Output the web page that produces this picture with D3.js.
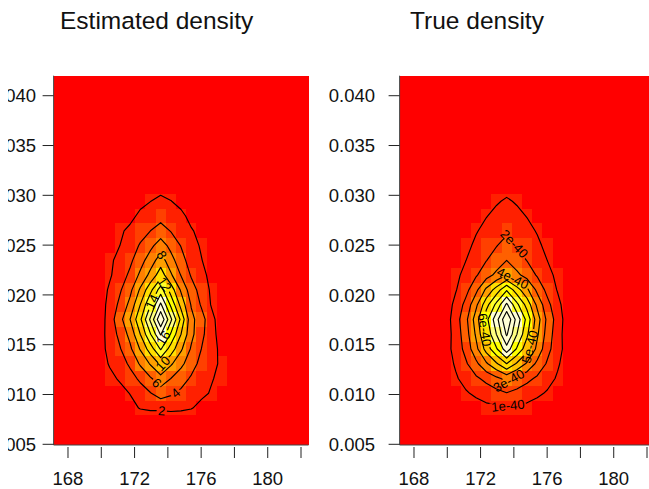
<!DOCTYPE html>
<html><head><meta charset="utf-8">
<script src="https://cdn.jsdelivr.net/npm/d3@7"></script>
<style>body{margin:0;background:#fff} svg{display:block}</style>
</head><body>
<svg id="chart" width="649" height="489"></svg>
<script>
// ---------- grid (25 x 25 image, extents of the cells) ----------
const xExtent = [167.135, 182.45];
const yExtent = [0.00493, 0.04201];
const nx = 25, ny = 25;
const windowCol0 = 3;            // stored rows start at grid column 3, grid row 0

const xTicks = [168, 170, 172, 174, 176, 178, 180, 182];
const xTickLabels = [168, 172, 176, 180];
const yTicks = [0.005, 0.010, 0.015, 0.020, 0.025, 0.030, 0.035, 0.040];

// ---------- Estimated density (rows bottom->top, columns 3..17) ----------
const estRows = [
  [0,0,0,0,0,0.1,0.1,0.1,0.15,0.15,0.1,0.05,0,0,0],
  [0,0,0.1,0.2,0.3,0.5,0.6,0.6,0.7,0.7,0.6,0.4,0.2,0.1,0],
  [0,0.1,0.3,0.8,1.5,2.1,2.3,2.3,2.4,2.3,2.1,1.5,0.8,0.3,0.1],
  [0.19,0.55,1.0,1.45,2.05,3.0,3.9,5.0,4.3,3.6,3.0,2.35,1.85,1.1,0.5],
  [0.43,1.0,1.58,2.2,3.17,4.4,5.76,7.2,6.0,4.8,3.75,2.8,2.1,1.6,1.1],
  [0.46,1.27,2.14,3.0,4.37,6.25,8.2,10.4,8.3,6.5,4.83,3.38,2.5,1.66,0.86],
  [0.43,1.26,2.56,3.83,5.6,8.15,11.0,14.2,11.1,8.3,5.75,3.98,2.7,1.48,0.47],
  [0.31,1.13,2.8,4.55,6.6,10.0,13.9,18.2,13.8,10.0,6.55,4.5,2.73,1.02,0.29],
  [0.2,0.83,3.0,5.3,8.0,11.6,16.4,21.8,16.4,11.5,6.6,4.8,2.6,0.8,0.2],
  [0.26,0.96,2.67,4.45,6.55,10.0,13.9,18.4,13.6,9.3,5.83,3.75,1.8,0.44,0.11],
  [0.26,0.93,2.3,3.75,5.5,8.3,11.4,15.0,11.1,7.7,4.9,3.2,1.64,0.44,0.1],
  [0.33,0.99,1.75,3.0,4.4,6.4,8.6,11.1,8.3,5.9,3.8,2.55,1.44,0.42,0.11],
  [0.3,0.9,1.7,2.5,3.6,5.2,7.0,9.0,6.75,4.77,3.06,2.07,1.17,0.34,0.09],
  [0.31,0.85,1.44,2.0,2.95,4.2,5.5,7.0,5.4,3.9,2.63,1.8,1.14,0.49,0.14],
  [0.35,0.8,1.3,1.72,2.4,3.2,4.0,4.9,3.9,3.0,2.15,1.5,1.08,0.6,0.29],
  [0.35,0.6,1.06,1.3,1.5,2.4,2.74,3.26,2.74,2.4,1.5,1.3,1.06,0.6,0.35],
  [0.2,0.4,0.6,0.92,1.24,1.5,1.98,2.4,2.05,1.5,1.3,1.1,0.91,0.6,0.3],
  [0.1,0.25,0.4,0.6,0.8,1.0,1.2,1.4,1.2,1.0,0.8,0.6,0.45,0.3,0.15],
  [0,0.1,0.15,0.22,0.3,0.38,0.45,0.5,0.45,0.38,0.3,0.22,0.15,0.1,0],
  [0,0,0.03,0.04,0.05,0.07,0.09,0.1,0.09,0.07,0.05,0.04,0.03,0,0]
];
const estLevels = [2, 4, 6, 8, 10, 12, 14, 16, 18, 20];
const estLevelLabels = ["2","4","6","8","10","12","14","16","18","20"];

// ---------- True density (units of 1e-40; rows bottom->top, columns 3..17) ----------
const trueRows = [
  [0.01,0.01,0.02,0.02,0.03,0.04,0.04,0.05,0.04,0.04,0.03,0.02,0.02,0.01,0.01],
  [0.03,0.05,0.07,0.1,0.12,0.15,0.17,0.2,0.17,0.15,0.12,0.1,0.07,0.05,0.03],
  [0.1,0.2,0.3,0.45,0.6,0.78,0.8,0.82,0.8,0.78,0.6,0.45,0.3,0.2,0.1],
  [0.3,0.46,0.66,0.9,1.17,1.4,1.68,1.95,1.68,1.4,1.17,0.9,0.66,0.46,0.3],
  [0.33,0.58,0.89,1.32,1.82,2.28,2.77,3.3,2.77,2.28,1.82,1.32,0.89,0.58,0.33],
  [0.16,0.57,1.11,1.86,2.76,3.84,4.86,6.0,4.86,3.84,2.76,1.86,1.11,0.57,0.16],
  [0.13,0.56,1.38,2.32,3.7,5.38,6.88,8.6,6.88,5.38,3.7,2.32,1.38,0.56,0.13],
  [0.1,0.46,1.42,2.54,4.16,6.19,8.02,10.15,8.02,6.19,4.16,2.54,1.42,0.46,0.1],
  [0.11,0.49,1.53,2.73,4.48,6.67,8.63,10.93,8.63,6.67,4.48,2.73,1.53,0.49,0.11],
  [0.09,0.41,1.29,2.3,3.77,5.61,7.27,9.2,7.27,5.61,3.77,2.3,1.29,0.41,0.09],
  [0.07,0.29,0.93,1.69,2.76,4.21,5.45,6.9,5.45,4.21,2.76,1.69,0.93,0.29,0.07],
  [0.13,0.42,0.78,1.28,1.9,2.6,3.24,4.0,3.24,2.6,1.9,1.28,0.78,0.42,0.13],
  [0.11,0.35,0.6,0.99,1.46,1.97,2.45,3.0,2.45,1.97,1.46,0.99,0.6,0.35,0.11],
  [0.09,0.28,0.48,0.79,1.16,1.57,1.96,2.4,1.96,1.57,1.16,0.79,0.48,0.28,0.09],
  [0.12,0.27,0.43,0.67,0.94,1.22,1.49,1.8,1.49,1.22,0.94,0.67,0.43,0.27,0.12],
  [0.08,0.2,0.33,0.51,0.74,0.97,1.2,1.45,1.2,0.97,0.74,0.51,0.33,0.2,0.08],
  [0.09,0.18,0.28,0.42,0.58,0.75,0.92,1.1,0.92,0.75,0.58,0.42,0.28,0.18,0.09],
  [0.08,0.14,0.22,0.32,0.44,0.55,0.64,0.72,0.64,0.55,0.44,0.32,0.22,0.14,0.08],
  [0.06,0.1,0.16,0.23,0.31,0.39,0.47,0.55,0.47,0.39,0.31,0.23,0.16,0.1,0.06],
  [0.04,0.07,0.1,0.15,0.2,0.25,0.3,0.35,0.3,0.25,0.2,0.15,0.1,0.07,0.04],
  [0.02,0.04,0.06,0.08,0.11,0.14,0.17,0.2,0.17,0.14,0.11,0.08,0.06,0.04,0.02],
  [0.01,0.02,0.03,0.04,0.06,0.07,0.09,0.1,0.09,0.07,0.06,0.04,0.03,0.02,0.01]
];
const trueLevels = [1, 2, 3, 4, 5, 6, 7, 8, 9, 10];
const trueLevelLabels = ["1e-40","2e-40","3e-40","4e-40","5e-40","6e-40","7e-40","8e-40","9e-40","1e-39"];

// ---------- layout / style ----------
const palette = ["#FF0000","#FF2000","#FF4000","#FF6000","#FF8000","#FF9F00",
                 "#FFBF00","#FFDF00","#FFFF00","#FFFF2A","#FFFF80","#FFFFD5"];
const colorTopFraction = 0.85;   // colour scale saturates a little below the peak
const FONT = "'Liberation Sans', Arial, Helvetica, sans-serif";
const plotW = 254.9, plotTop = 75.7, plotBottom = 445;

// label anchor spots (data coordinates) where contour labels sit
const estLabelSpots = [
  {level: 2, x: 173.63, y: 0.00827}, {level: 4, x: 174.73, y: 0.00962},
  {level: 6, x: 173.03, y: 0.01062}, {level: 8, x: 173.63, y: 0.02401},
  {level: 10, x: 174.23, y: 0.01229}, {level: 12, x: 174.03, y: 0.02133},
  {level: 14, x: 172.63, y: 0.01966}, {level: 16, x: 174.23, y: 0.01514}
];
const trueLabelSpots = [
  {level: 1, x: 173.63, y: 0.00902}, {level: 2, x: 173.63, y: 0.02451},
  {level: 3, x: 173.73, y: 0.01129}, {level: 4, x: 173.83, y: 0.02133},
  {level: 5, x: 175.03, y: 0.01477}, {level: 6, x: 172.16, y: 0.01648}
];

const svg = d3.select("#chart");
const defs = svg.append("defs");
// the left panel's y labels are cut at the left edge in the original figure
defs.append("clipPath").attr("id", "leftCut")
  .append("rect").attr("x", 8).attr("y", 0).attr("width", 641).attr("height", 489);

function drawPanel(cfg) {
  const x = d3.scaleLinear().domain(xExtent).range([cfg.left, cfg.left + plotW]);
  const y = d3.scaleLinear().domain(yExtent).range([plotBottom, plotTop]);
  const dx = (xExtent[1] - xExtent[0]) / nx, dy = (yExtent[1] - yExtent[0]) / ny;

  const values = new Array(nx * ny).fill(0);
  cfg.rows.forEach((r, j) => r.forEach((v, c) => { values[j * nx + c + windowCol0] = v; }));
  const [zmin, zmax] = d3.extent(values);
  const ztop = zmin + (zmax - zmin) * colorTopFraction;
  const color = d3.scaleQuantize().domain([zmin, ztop]).range(palette);
  const fill = v => v >= ztop ? palette[palette.length - 1] : color(v);

  const g = svg.append("g");
  const cells = d3.range(nx * ny).map(k => ({i: k % nx, j: Math.floor(k / nx), v: values[k]}));
  g.append("g").selectAll("rect").data(cells).join("rect")
    .attr("x", d => x(xExtent[0] + d.i * dx))
    .attr("y", d => y(yExtent[0] + (d.j + 1) * dy))
    .attr("width", d => x(xExtent[0] + (d.i + 1) * dx) - x(xExtent[0] + d.i * dx))
    .attr("height", d => y(yExtent[0] + d.j * dy) - y(yExtent[0] + (d.j + 1) * dy))
    .attr("fill", d => fill(d.v))
    .attr("shape-rendering", "crispEdges");

  // contours
  const contours = d3.contours().size([nx, ny]).thresholds(cfg.levels)(values);
  const toPx = (p) => [x(xExtent[0] + p[0] * dx), y(yExtent[0] + p[1] * dy)];
  const path = d3.geoPath(d3.geoTransform({
    point(px, py) { const q = toPx([px, py]); this.stream.point(q[0], q[1]); }
  }));

  const labG = svg.append("g");
  contours.forEach((c, li) => {
    const spots = cfg.spots.filter(s => s.level === c.value);
    const maskId = `m${cfg.id}_${li}`;
    const placed = [];
    spots.forEach(s => {
      const t = [x(s.x), y(s.y)];
      let best = null;
      c.coordinates.forEach(poly => poly.forEach(ring => {
        const pts = ring.map(toPx);
        for (let k = 0; k < pts.length - 1; k++) {
          const a = pts[k], b = pts[k + 1];
          const vx = b[0] - a[0], vy = b[1] - a[1];
          const L2 = vx * vx + vy * vy || 1e-9;
          let u = ((t[0] - a[0]) * vx + (t[1] - a[1]) * vy) / L2;
          u = Math.max(0, Math.min(1, u));
          const p = [a[0] + u * vx, a[1] + u * vy];
          const dd = (p[0] - t[0]) ** 2 + (p[1] - t[1]) ** 2;
          if (!best || dd < best.d) best = {d: dd, p, ang: Math.atan2(vy, vx) * 180 / Math.PI};
        }
      }));
      if (!best) return;
      let ang = best.ang;
      while (ang > 90) ang -= 180;
      while (ang <= -90) ang += 180;
      const txt = cfg.levelLabels[cfg.levels.indexOf(c.value)];
      const te = labG.append("text")
        .attr("transform", `translate(${best.p[0]},${best.p[1]}) rotate(${ang})`)
        .attr("text-anchor", "middle").attr("dy", "0.35em")
        .attr("font-family", FONT).attr("font-size", 13).attr("fill", "#000")
        .text(txt);
      const w = te.node().getComputedTextLength();
      placed.push({p: best.p, ang, w});
    });
    if (placed.length) {
      const m = defs.append("mask").attr("id", maskId).attr("maskUnits", "userSpaceOnUse")
        .attr("x", 0).attr("y", 0).attr("width", 649).attr("height", 489);
      m.append("rect").attr("width", 649).attr("height", 489).attr("fill", "#fff");
      placed.forEach(pl => m.append("rect")
        .attr("transform", `translate(${pl.p[0]},${pl.p[1]}) rotate(${pl.ang})`)
        .attr("x", -pl.w / 2 - 1.5).attr("y", -4).attr("width", pl.w + 3).attr("height", 8)
        .attr("fill", "#000"));
    }
    g.append("path").attr("d", path(c))
      .attr("fill", "none").attr("stroke", "#000").attr("stroke-width", 1.15)
      .attr("stroke-linejoin", "round")
      .attr("mask", placed.length ? `url(#${maskId})` : null);
  });
  labG.raise();

  // frame lines (left and bottom)
  svg.append("line").attr("x1", cfg.left).attr("x2", cfg.left)
    .attr("y1", plotTop).attr("y2", plotBottom).attr("stroke", "#444").attr("stroke-width", 1);
  svg.append("line").attr("x1", cfg.left).attr("x2", cfg.left + plotW)
    .attr("y1", plotBottom).attr("y2", plotBottom).attr("stroke", "#444").attr("stroke-width", 1);

  // y axis
  const ya = svg.append("g");
  const yl = svg.append("g").attr("clip-path", cfg.clipLabels ? "url(#leftCut)" : null);
  yTicks.forEach(t => {
    ya.append("line").attr("x1", cfg.left - 11).attr("x2", cfg.left)
      .attr("y1", y(t)).attr("y2", y(t)).attr("stroke", "#222");
    yl.append("text").attr("x", cfg.yLabelRight).attr("y", y(t) + 6.6)
      .attr("text-anchor", "end").attr("font-family", FONT).attr("font-size", 18.5)
      .attr("fill", "#111").text(t.toFixed(3));
  });
  // x axis
  const xa = svg.append("g");
  xTicks.forEach(t => {
    xa.append("line").attr("x1", x(t)).attr("x2", x(t))
      .attr("y1", 447).attr("y2", 458).attr("stroke", "#222");
  });
  xTickLabels.forEach(t => {
    xa.append("text").attr("x", x(t)).attr("y", 485)
      .attr("text-anchor", "middle").attr("font-family", FONT).attr("font-size", 18.5)
      .attr("fill", "#111").text(t);
  });
  // title
  svg.append("text").attr("x", cfg.titleX).attr("y", 29)
    .attr("font-family", FONT).attr("font-size", 24.5).attr("fill", "#111").text(cfg.title);
}

drawPanel({id: "est", left: 53.6, title: "Estimated density", titleX: 60, yLabelRight: 36, clipLabels: true,
           rows: estRows, levels: estLevels, levelLabels: estLevelLabels, spots: estLabelSpots});
drawPanel({id: "true", left: 399.6, title: "True density", titleX: 410, yLabelRight: 375, clipLabels: false,
           rows: trueRows, levels: trueLevels, levelLabels: trueLevelLabels, spots: trueLabelSpots});
</script>
</body></html>
